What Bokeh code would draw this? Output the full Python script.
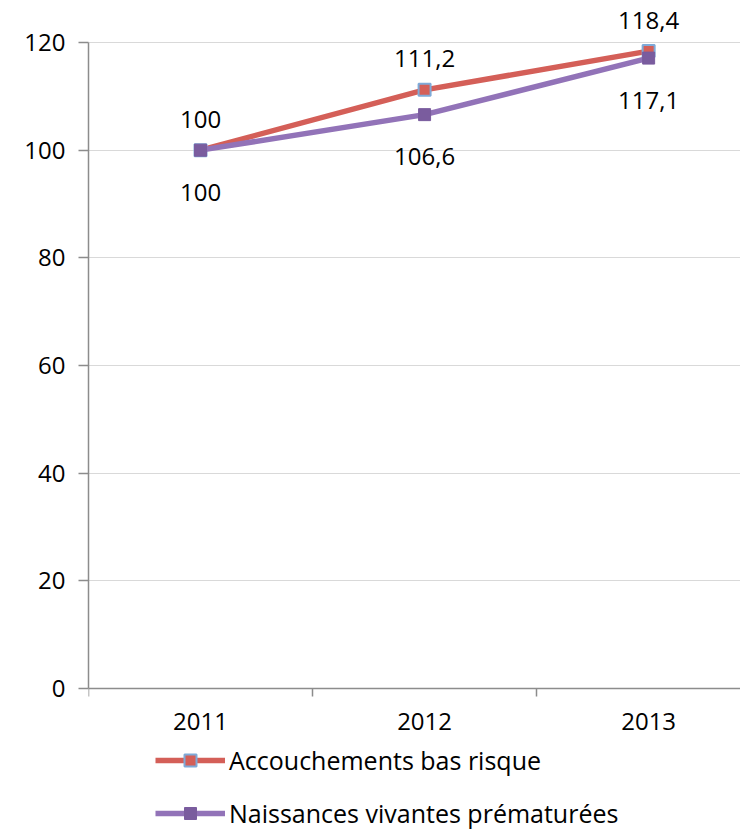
from bokeh.plotting import figure
from bokeh.models import (FixedTicker, LinearAxis, Legend, LegendItem,
                          ColumnDataSource, Range1d, Grid)
from bokeh.core.properties import value
from bokeh.embed import file_html
from bokeh.resources import INLINE

years = ["2011", "2012", "2013"]
accouchements = [100, 111.2, 118.4]
naissances = [100, 106.6, 117.1]
acc_labels = ["100", "111,2", "118,4"]
nai_labels = ["100", "106,6", "117,1"]
y_ticks = [0, 20, 40, 60, 80, 100, 120]
series_names = ["Accouchements bas risque", "Naissances vivantes prématurées"]

FONT = "Open Sans"
RED = "#D45F58"
RED_EDGE = "#7FAAD8"
PURPLE = "#9273B8"
PURPLE_MARK = "#7A5C9E"
AXIS = "#8C8C8C"
GRID = "#D9D9D9"

xs = list(range(1, len(years) + 1))

p = figure(width=740, height=832,
           x_range=Range1d(0.5, 3.41), y_range=Range1d(-26.75, 127.8),
           output_backend="svg", toolbar_location=None,
           x_axis_type=None, y_axis_type=None,
           min_border_left=88, min_border_right=0,
           min_border_top=0, min_border_bottom=0)
p.outline_line_color = None
p.background_fill_color = "white"

# y axis
yaxis = LinearAxis(ticker=FixedTicker(ticks=y_ticks), bounds=(0, 120),
                   axis_line_color=AXIS, axis_line_width=1.5,
                   major_tick_line_color=AXIS, major_tick_line_width=1.5,
                   major_tick_out=10, major_tick_in=0,
                   minor_tick_line_color=None,
                   major_label_text_font=FONT,
                   major_label_text_font_size="24px",
                   major_label_text_color="black",
                   major_label_standoff=13)
p.add_layout(yaxis, "left")
p.add_layout(Grid(dimension=1, ticker=yaxis.ticker,
                  grid_line_color=GRID, grid_line_width=1))

# x axis: tick marks at category boundaries
bounds_ticks = [i + 0.5 for i in range(len(years) + 1)]
xaxis1 = LinearAxis(ticker=FixedTicker(ticks=bounds_ticks), fixed_location=0,
                    axis_line_color=AXIS, axis_line_width=1.5,
                    major_tick_line_color=AXIS, major_tick_line_width=1.5,
                    major_tick_out=8, major_tick_in=0,
                    minor_tick_line_color=None,
                    major_label_overrides={t: "" for t in bounds_ticks},
                    major_label_text_font_size="1px",
                    major_label_standoff=0)
p.add_layout(xaxis1, "below")
# x axis: category labels
xaxis2 = LinearAxis(ticker=FixedTicker(ticks=xs), fixed_location=0,
                    axis_line_color=None, major_tick_line_color=None,
                    minor_tick_line_color=None,
                    major_tick_out=0, major_tick_in=0,
                    major_label_overrides={x: y for x, y in zip(xs, years)},
                    major_label_text_font=FONT,
                    major_label_text_font_size="24px",
                    major_label_text_color="black",
                    major_label_standoff=25)
p.add_layout(xaxis2, "below")

# series
l1 = p.line(xs, accouchements, line_color=RED, line_width=5.5)
s1 = p.scatter(xs, accouchements, marker="square", size=12,
               fill_color=RED, line_color=RED_EDGE, line_width=2)
l2 = p.line(xs, naissances, line_color=PURPLE, line_width=5.5)
s2 = p.scatter(xs, naissances, marker="square", size=12,
               fill_color=PURPLE_MARK, line_color=PURPLE_MARK, line_width=1)

src1 = ColumnDataSource(dict(x=xs, y=accouchements, t=acc_labels))
src2 = ColumnDataSource(dict(x=xs, y=naissances, t=nai_labels))
p.text("x", "y", text="t", source=src1, text_align="center",
       text_baseline="middle", y_offset=-31, text_font=value(FONT),
       text_font_size="24px", text_color="black")
p.text("x", "y", text="t", source=src2, text_align="center",
       text_baseline="middle", y_offset=42, text_font=value(FONT),
       text_font_size="24px", text_color="black")

legend = Legend(items=[LegendItem(label=series_names[0], renderers=[l1, s1]),
                       LegendItem(label=series_names[1], renderers=[l2, s2])],
                orientation="vertical", location=(67, 2),
                glyph_width=70, glyph_height=30, label_height=30,
                label_text_font=FONT, label_text_font_size="25px",
                label_text_color="black", label_standoff=4,
                spacing=19, padding=0, margin=0,
                border_line_color=None, background_fill_alpha=0)
p.add_layout(legend, "center")

open("out.html", "w").write(file_html(p, INLINE))
